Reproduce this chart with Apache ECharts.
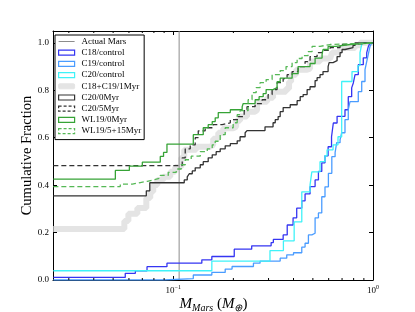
<!DOCTYPE html>
<html><head><meta charset="utf-8">
<script src="https://cdn.jsdelivr.net/npm/echarts@6/dist/echarts.min.js"></script>
<style>html,body{margin:0;padding:0;background:#fff}#c{width:415px;height:312px}</style>
</head><body><div id="c"></div>
<script>
const marsMass = 0.107;
const minorTicks = [0.03,0.04,0.05,0.06,0.07,0.08,0.09,0.2,0.3,0.4,0.5,0.6,0.7,0.8,0.9];

const c18CtrlMass = [0.0251,0.0575,0.0646,0.0739,0.093,0.139,0.156,0.202,0.247,0.309,0.317,0.355,0.372,0.398,0.415,0.44,0.457,0.484,0.513,0.533,0.554,0.575,0.596,0.62,0.633,0.661,0.724,0.752,0.782,0.797,0.813,0.844,0.894,0.93,0.947,0.966,1.0];
const c18CtrlFrac = [0.011,0.028,0.039,0.056,0.071,0.085,0.099,0.13,0.144,0.158,0.171,0.19,0.232,0.262,0.303,0.334,0.363,0.394,0.422,0.458,0.494,0.524,0.562,0.604,0.662,0.69,0.718,0.773,0.81,0.831,0.866,0.908,0.937,0.958,0.984,1.0,1.0];

const c19CtrlMass = [0.0251,0.0894,0.126,0.156,0.182,0.197,0.252,0.272,0.343,0.37,0.4,0.44,0.457,0.475,0.494,0.513,0.533,0.554,0.575,0.598,0.622,0.646,0.658,0.684,0.697,0.724,0.752,0.767,0.844,0.878,0.912,0.93,0.947,0.966,0.985,1.0];
const c19CtrlFrac = [0,0.006,0.021,0.032,0.046,0.057,0.071,0.08,0.092,0.106,0.115,0.139,0.155,0.19,0.197,0.262,0.283,0.351,0.393,0.45,0.52,0.537,0.579,0.591,0.621,0.676,0.718,0.752,0.794,0.837,0.887,0.921,0.951,0.985,1.0,1.0];

const c20CtrlMass = [0.0251,0.156,0.305,0.356,0.403,0.44,0.484,0.494,0.543,0.575,0.589,0.631,0.668,0.697,0.785,0.841,0.861,0.881,1.0];
const c20CtrlFrac = [0.039,0.08,0.124,0.165,0.245,0.372,0.401,0.456,0.499,0.524,0.549,0.57,0.604,0.837,0.879,0.904,0.959,1.0,1.0];

const c1819Mass = [0.0251,0.0569,0.0596,0.0661,0.0733,0.0767,0.0794,0.0832,0.0891,0.0966,0.1023,0.1096,0.1135,0.1303,0.153,0.1585,0.168,0.178,0.1995,0.2065,0.216,0.234,0.257,0.263,0.295,0.316,0.367,0.38,0.389,0.412,0.468,0.484,0.543,0.61,0.624,0.684,0.813,0.861,1.0];
const c1819Frac = [0.215,0.249,0.279,0.304,0.346,0.372,0.401,0.422,0.435,0.456,0.477,0.515,0.549,0.562,0.57,0.596,0.621,0.64,0.646,0.672,0.689,0.71,0.718,0.752,0.769,0.794,0.807,0.836,0.866,0.887,0.891,0.921,0.934,0.942,0.959,0.978,0.99,1.0,1.0];

const c20m0Mass = [0.0251,0.0733,0.0763,0.1135,0.1175,0.1202,0.1245,0.1288,0.1365,0.1413,0.1496,0.1567,0.164,0.1718,0.182,0.193,0.209,0.216,0.229,0.234,0.288,0.316,0.324,0.335,0.343,0.355,0.385,0.417,0.432,0.447,0.468,0.484,0.513,0.525,0.543,0.562,0.596,0.603,0.631,0.661,0.684,0.70,0.724,0.794,0.813,1.0];
const c20m0Frac = [0.355,0.376,0.41,0.422,0.435,0.448,0.46,0.473,0.486,0.499,0.515,0.528,0.541,0.553,0.566,0.575,0.587,0.604,0.621,0.63,0.646,0.663,0.676,0.689,0.71,0.727,0.739,0.756,0.773,0.782,0.803,0.815,0.841,0.853,0.866,0.879,0.9,0.917,0.925,0.942,0.959,0.972,0.98,0.989,1.0,1.0];

const c20m5Mass = [0.0251,0.1109,0.1148,0.1216,0.1288,0.1334,0.1445,0.1585,0.1758,0.193,0.2113,0.2265,0.234,0.257,0.2786,0.2985,0.3126,0.331,0.355,0.3715,0.3936,0.4217,0.457,0.484,0.525,0.556,0.61,0.684,0.75,1.0];
const c20m5Frac = [0.482,0.515,0.553,0.57,0.6,0.629,0.642,0.655,0.663,0.676,0.689,0.714,0.731,0.744,0.76,0.782,0.803,0.832,0.849,0.866,0.879,0.9,0.921,0.942,0.959,0.968,0.98,0.993,1.0,1.0];

const wl0Mass = [0.0251,0.0513,0.0603,0.070,0.0861,0.0894,0.093,0.126,0.1413,0.1496,0.1567,0.1622,0.168,0.193,0.2213,0.224,0.257,0.269,0.282,0.2917,0.316,0.331,0.343,0.3936,0.4217,0.484,0.513,0.556,0.562,0.596,0.653,0.767,1.0];
const wl0Frac = [0.425,0.462,0.48,0.497,0.521,0.538,0.573,0.613,0.642,0.655,0.668,0.684,0.706,0.718,0.731,0.744,0.76,0.773,0.786,0.803,0.811,0.836,0.851,0.87,0.9,0.913,0.936,0.951,0.972,0.985,0.993,1.0,1.0];

const wl5Mass = [0.0251,0.0543,0.0624,0.0684,0.0741,0.0794,0.0861,0.0944,0.1035,0.1096,0.1148,0.123,0.1365,0.148,0.1567,0.1622,0.1718,0.182,0.1995,0.209,0.216,0.237,0.248,0.26,0.272,0.2917,0.3126,0.343,0.367,0.3936,0.417,0.4416,0.473,0.4955,0.543,0.61,1.0];
const wl5Frac = [0.394,0.404,0.411,0.416,0.422,0.43,0.441,0.454,0.468,0.486,0.507,0.522,0.541,0.553,0.57,0.585,0.613,0.642,0.663,0.697,0.714,0.76,0.79,0.811,0.832,0.845,0.866,0.883,0.9,0.917,0.934,0.946,0.963,0.985,0.993,1.0,1.0];

const FONT = 'Liberation Serif';
const zip = (a, b) => a.map((v, i) => [v, b[i]]);

const C = {
  mars: '#8c8c8c', c18: '#3535f2', c19: '#4a9cff', c20: '#3ff2f8', gray: '#e4e4e4',
  black: '#333333', green: '#36a336', green2: '#55b855'
};

function stepSeries(name, mass, frac, color, width, dashed, z) {
  return {
    name, type: 'line', step: 'end', symbol: 'none', z: z || 3,
    data: zip(mass, frac),
    lineStyle: { color, width, type: dashed ? [5, 3] : 'solid', cap: 'butt' },
    itemStyle: { color },
    emphasis: { disabled: true }, silent: true
  };
}

const tickFmt = function (v) {
  const e = Math.log10(v);
  const r = Math.round(e);
  if (Math.abs(e - r) > 1e-6) return '';
  return '{b|10}{e|' + (r < 0 ? '\u2212' + (-r) : r) + '}';
};

const axisCommonX = {
  type: 'log', logBase: 10, min: 0.025, max: 1,
  axisLine: { onZero: false, lineStyle: { color: '#000', width: 1 } },
  axisTick: { inside: true, length: 4, lineStyle: { color: '#000' } },
  splitLine: { show: false }, minorTick: { show: false }
};
const axisCommonY = {
  type: 'value', min: 0, max: 1.05, interval: 0.2,
  axisLine: { onZero: false, lineStyle: { color: '#000', width: 1 } },
  axisTick: { inside: true, length: 4, lineStyle: { color: '#000' } },
  splitLine: { show: false }
};

const rectItem = (name, color, dashed) => ({
  name, icon: 'rect',
  itemStyle: { color: 'rgba(0,0,0,0)', borderColor: color, borderWidth: 1.2, borderType: dashed ? [3, 2] : 'solid' }
});

const chart = echarts.init(document.getElementById('c'), null, { renderer: 'canvas' });
chart.setOption({
  animation: false,
  backgroundColor: '#fff',
  grid: { left: 53, right: 42, top: 31, bottom: 32, containLabel: false },
  graphic: [
    {
      type: 'text', x: 27.5, y: 155.5, rotation: Math.PI / 2, silent: true,
      style: { text: 'Cumulative Fraction', fontFamily: FONT, fontSize: 14.5, fill: '#000', align: 'center', verticalAlign: 'middle' }
    },
    {
      type: 'text', x: 213.5, y: 304.5, silent: true,
      style: {
        text: '{m|M}{s|Mars}{p| (}{m|M}{s|\u2295}{p|)}', align: 'center', verticalAlign: 'middle',
        rich: {
          m: { fontFamily: FONT, fontSize: 15, fontStyle: 'italic', fill: '#000', lineHeight: 18 },
          s: { fontFamily: FONT, fontSize: 10, fontStyle: 'italic', fill: '#000', lineHeight: 10, verticalAlign: 'bottom' },
          p: { fontFamily: FONT, fontSize: 15, fill: '#000', lineHeight: 18 }
        }
      }
    }
  ],
  xAxis: [
    Object.assign({}, axisCommonX, {
      position: 'bottom',
      axisLabel: {
        formatter: tickFmt, margin: 4,
        rich: {
          b: { fontFamily: FONT, fontSize: 9, color: '#000', lineHeight: 11, verticalAlign: 'bottom' },
          e: { fontFamily: FONT, fontSize: 6, color: '#000', lineHeight: 7, verticalAlign: 'top' }
        }
      }
    }),
    Object.assign({}, axisCommonX, { position: 'top', axisLabel: { show: false } })
  ],
  yAxis: [
    Object.assign({}, axisCommonY, {
      position: 'left',
      axisLabel: {
        showMaxLabel: false, margin: 4,
        formatter: v => v.toFixed(1),
        fontFamily: FONT, fontSize: 9, color: '#000'
      }
    }),
    Object.assign({}, axisCommonY, { position: 'right', axisLabel: { show: false } })
  ],
  legend: {
    orient: 'vertical', left: 55, top: 35,
    padding: [2, 3, 4, 3],
    itemWidth: 16, itemHeight: 5, itemGap: 2.2,
    backgroundColor: '#fff', borderColor: '#000', borderWidth: 1,
    selectedMode: false,
    textStyle: { fontFamily: FONT, fontSize: 9, color: '#000', lineHeight: 9, padding: [0, 0, 0, 2] },
    data: [
      { name: 'Actual Mars', icon: 'path://M0,0H16V1H0Z', itemStyle: { color: C.mars, borderWidth: 0 } },
      rectItem('C18/control', C.c18),
      rectItem('C19/control', C.c19),
      rectItem('C20/control', C.c20),
      { name: 'C18+C19/1Myr', icon: 'roundRect', itemStyle: { color: C.gray, borderColor: C.gray, borderWidth: 1 } },
      rectItem('C20/0Myr', C.black),
      rectItem('C20/5Myr', C.black, true),
      rectItem('WL19/0Myr', C.green),
      rectItem('WL19/5+15Myr', C.green2, true)
    ]
  },
  series: [
    {
      name: 'Actual Mars', type: 'line', symbol: 'none', z: 2, silent: true,
      data: [[marsMass, 0], [marsMass, 1.05]],
      lineStyle: { color: C.mars, width: 1 }, itemStyle: { color: C.mars }
    },
    stepSeries('C18/control', c18CtrlMass, c18CtrlFrac, C.c18, 1.3, false),
    stepSeries('C19/control', c19CtrlMass, c19CtrlFrac, C.c19, 1.3, false),
    stepSeries('C20/control', c20CtrlMass, c20CtrlFrac, C.c20, 1.3, false),
    stepSeries('C18+C19/1Myr', c1819Mass, c1819Frac, C.gray, 6, false, 1),
    stepSeries('C20/0Myr', c20m0Mass, c20m0Frac, C.black, 1.3, false),
    stepSeries('C20/5Myr', c20m5Mass, c20m5Frac, C.black, 1.3, true),
    stepSeries('WL19/0Myr', wl0Mass, wl0Frac, C.green, 1.3, false),
    stepSeries('WL19/5+15Myr', wl5Mass, wl5Frac, C.green2, 1.3, true),
    {
      type: 'custom', silent: true, z: 10,
      data: minorTicks.map(v => [v, 0]),
      encode: { x: 0, y: 1 },
      renderItem: function (params, api) {
        const v = api.value(0);
        const b = api.coord([v, 0]);
        const t = api.coord([v, 1.05]);
        const st = { stroke: '#000', lineWidth: 1 };
        return {
          type: 'group', children: [
            { type: 'line', shape: { x1: b[0], y1: b[1], x2: b[0], y2: b[1] - 2 }, style: st },
            { type: 'line', shape: { x1: t[0], y1: t[1], x2: t[0], y2: t[1] + 2 }, style: st }
          ]
        };
      }
    }
  ]
});
</script></body></html>
